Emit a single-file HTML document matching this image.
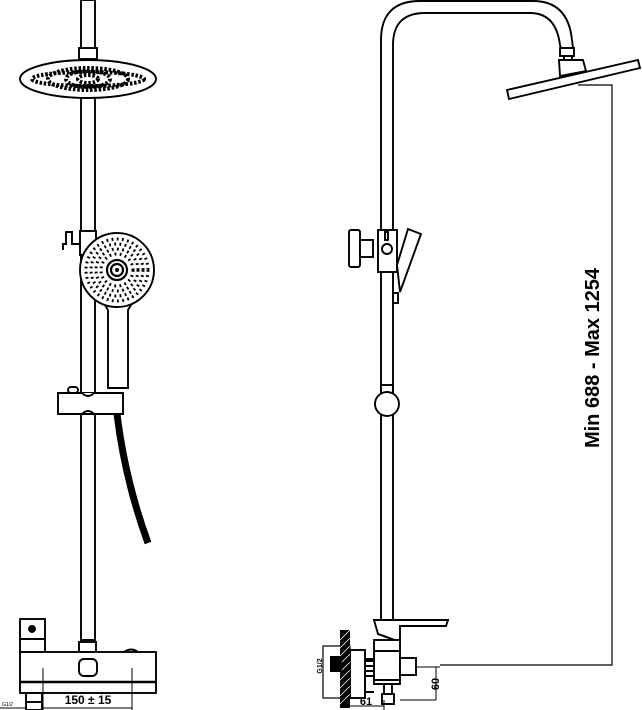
<!DOCTYPE html>
<html><head><style>html,body{margin:0;padding:0;background:#fff}svg{display:block}</style></head>
<body>
<svg width="642" height="710" viewBox="0 0 642 710" xmlns="http://www.w3.org/2000/svg" fill="none" stroke="#000" stroke-width="1.9">
<!-- LEFT VIEW -->
<rect x="81" y="0" width="14" height="640" fill="#fff"/>
<rect x="79" y="48" width="18" height="11" fill="#fff"/>
<ellipse cx="88" cy="79" rx="68" ry="19" fill="#fff"/>
<g stroke-width="4" stroke-dasharray="2.5 1.8">
<ellipse cx="88" cy="79" rx="56" ry="7"/>
<ellipse cx="88" cy="79" rx="40" ry="11"/>
<ellipse cx="88" cy="79" rx="22" ry="8"/>
<ellipse cx="88" cy="79" rx="10" ry="4"/>
</g>
<!-- hand shower bracket -->
<path d="M63 250 V244 H66 V232 H72 V244 H82" />
<rect x="80" y="231" width="16" height="24" fill="#fff"/>
<path d="M102 300 L108 310 V388 H128 V310 L134 300 Z" fill="#fff"/>
<circle cx="117" cy="270" r="37" fill="#fff"/>
<circle cx="117" cy="270" r="2" fill="#000" stroke="none"/>
<circle cx="117" cy="270" r="6" stroke-width="2.2"/>
<circle cx="117" cy="270" r="10" stroke-width="2.2"/>
<g stroke-width="3" stroke-dasharray="1.8 3.4">
<circle cx="117" cy="270" r="16"/>
<circle cx="117" cy="270" r="21"/>
<circle cx="117" cy="270" r="26"/>
<circle cx="117" cy="270" r="31"/>
</g>
<!-- slider -->
<path d="M58 393 H123 V414 H58 Z" fill="#fff"/>
<path d="M82 414 Q88 408 94 414" />
<path d="M82 393 Q88 399 94 393" fill="#fff"/>
<rect x="68" y="387" width="10" height="6" rx="3" fill="#fff"/>
<path d="M117 414 Q125 480 148 543" stroke-width="7"/>
<!-- mixer -->
<rect x="20" y="619" width="25" height="20" fill="#fff"/>
<circle cx="32" cy="629" r="3" fill="#000"/>
<rect x="20" y="639" width="25" height="13"/>
<rect x="79" y="642" width="17" height="10" fill="#fff"/>
<rect x="20" y="652" width="136" height="41" fill="#fff"/>
<line x1="20" y1="682" x2="156" y2="682" stroke-width="2.5"/>
<rect x="79" y="659" width="18" height="17" rx="5"/>
<path d="M124 652 Q131 647 138 652"/>
<rect x="26" y="693" width="16" height="17"/>
<line x1="26" y1="702" x2="42" y2="702"/>
<line x1="43" y1="668" x2="43" y2="710" stroke-width="1"/>
<line x1="132" y1="668" x2="132" y2="710" stroke-width="1"/>
<line x1="43" y1="708" x2="132" y2="708" stroke-width="1"/>
<line x1="0" y1="708" x2="26" y2="708" stroke-width="1"/>
<text x="88" y="704" font-family="Liberation Sans, sans-serif" font-size="12" fill="#000" stroke="none" text-anchor="middle" font-weight="bold">150 ± 15</text>
<text x="2" y="706" font-family="Liberation Sans, sans-serif" font-size="5" fill="#000" stroke="none" font-style="italic">G1/2</text>

<!-- RIGHT VIEW -->
<path d="M381 620 V40 Q381 1 420 1 H533 Q568 1 572 40 L573 48" />
<path d="M393 620 V45 Q393 13 425 13 H530 Q556 13 560 45 L561 48" />
<rect x="560" y="48" width="14" height="8" fill="#fff"/>
<rect x="564" y="56" width="8" height="4"/>
<path d="M559 60 H583 L586 71 L560 76 Z" fill="#fff"/>
<path d="M507 90 L638 60 L640 68 L509 99 Z" fill="#fff"/>
<!-- dim -->
<path d="M578 85 H612 V665 H440" stroke-width="1.2"/>
<text transform="translate(599,358) rotate(-90)" font-family="Liberation Sans, sans-serif" font-size="20" fill="#000" stroke="none" text-anchor="middle" font-weight="bold">Min 688 - Max 1254</text>
<!-- diverter -->
<rect x="349" y="230" width="11" height="37" rx="2" fill="#fff"/>
<rect x="360" y="240" width="13" height="17" fill="#fff"/>
<rect x="378" y="230" width="19" height="42" fill="#fff"/>
<rect x="385" y="232" width="3" height="8" fill="#fff"/>
<circle cx="387" cy="249" r="5" fill="#fff"/>
<path d="M397 265 L408 229 L421 234 L400 292 Z" fill="#fff"/>
<rect x="393" y="293" width="5" height="10"/>
<rect x="381" y="385" width="12" height="8" fill="#fff"/>
<circle cx="387" cy="404" r="12" fill="#fff"/>
<!-- bottom mixer -->
<path d="M374 620 H448 L446 626 H400 V642 L378 634 Z" fill="#fff"/>
<path d="M378 634 Q388 637 398 642"/>
<rect x="374" y="640" width="26" height="44" fill="#fff"/>
<line x1="374" y1="651" x2="400" y2="651"/>
<line x1="374" y1="680" x2="400" y2="680"/>
<rect x="400" y="658" width="16" height="17" fill="#fff"/>
<line x1="416" y1="667" x2="440" y2="667" stroke-width="1"/>
<rect x="382" y="694" width="12" height="10" fill="#fff"/>
<line x1="374" y1="684" x2="400" y2="684"/>
<path d="M384 684 V694 M392 684 V694"/>
<path d="M365 659 V692 M365 659 H374 M365 692 H374" />
<path d="M366 661 H374 M366 666 H374 M366 671 H374 M366 676 H374"/>
<rect x="350" y="650" width="15" height="48" fill="#fff"/>
<rect x="323" y="646" width="27" height="52" stroke-width="1.2"/>
<rect x="340" y="630" width="10" height="78" fill="#000" stroke="none"/>
<g stroke="#fff" stroke-width="0.8">
<path d="M340 640 L350 630 M340 648 L350 638 M340 656 L350 646 M340 664 L350 654 M340 672 L350 662 M340 680 L350 670 M340 688 L350 678 M340 696 L350 686 M340 704 L350 694"/>
</g>
<rect x="330" y="656" width="12" height="16" fill="#000" stroke="none"/>
<line x1="350" y1="706" x2="384" y2="706" stroke-width="1"/>
<line x1="384" y1="700" x2="384" y2="710" stroke-width="1"/>
<line x1="400" y1="700" x2="436" y2="700" stroke-width="1"/>
<line x1="436" y1="667" x2="436" y2="700" stroke-width="1"/>
<text x="366" y="705" font-family="Liberation Sans, sans-serif" font-size="11" fill="#000" stroke="none" text-anchor="middle" font-weight="bold">61</text>
<text transform="translate(439,684) rotate(-90)" font-family="Liberation Sans, sans-serif" font-size="11" fill="#000" stroke="none" text-anchor="middle" font-weight="bold">60</text>
<text transform="translate(322,666) rotate(-90)" font-family="Liberation Sans, sans-serif" font-size="7" fill="#000" stroke="none" text-anchor="middle" font-weight="bold">G1/2</text>
</svg>
</body></html>
